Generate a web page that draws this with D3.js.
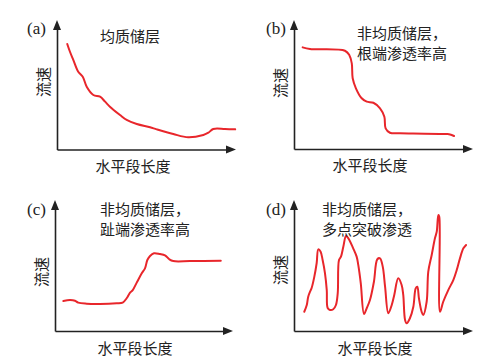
<!DOCTYPE html>
<html><head><meta charset="utf-8">
<script src="https://cdn.jsdelivr.net/npm/d3@7"></script>
<style>
html,body{margin:0;padding:0;background:#fff;}
svg{display:block;}
</style></head>
<body>
<svg id="chart" width="485" height="362"></svg>
<script>
// ---- data (horizontal length 0-100, flow velocity 0-100) ----
const panelLabels = ["(a)", "(b)", "(c)", "(d)"];
const panelTitles = [["均质储层"], ["非均质储层，", "根端渗透率高"], ["非均质储层，", "趾端渗透率高"], ["非均质储层，", "多点突破渗透"]];
const yAxisLabel = "流速";
const xAxisLabel = "水平段长度";

const aX = [5.7, 7.2, 9.1, 11.8, 14.3, 16.5, 20.2, 23.9, 26.7, 29.4, 35.0, 38.7, 44.3, 51.7, 55.4, 64.6, 72.9, 81.3, 84.1, 86.8, 93.3, 99.0];
const aY = [81.2, 75.2, 68.8, 59.8, 56.0, 48.3, 41.9, 40.6, 36.8, 32.9, 26.5, 22.7, 19.6, 17.1, 15.5, 11.9, 9.4, 11.2, 12.9, 15.8, 15.8, 15.5];

const bX = [4.8, 8.9, 28.3, 30.7, 32.1, 32.6, 34.4, 37.6, 40.4, 44.1, 47.8, 50.2, 50.9, 53.3, 58.9, 66.1, 85.0, 86.7, 88.9];
const bY = [78.2, 76.9, 75.6, 72.3, 65.9, 54.4, 46.7, 39.0, 36.4, 35.6, 31.3, 24.8, 15.9, 12.5, 12.1, 11.9, 11.5, 11.2, 10.0];

const cX = [4.6, 8.3, 11.1, 12.9, 17.6, 25.0, 34.3, 37.6, 39.8, 41.7, 43.2, 45.4, 48.2, 50.0, 51.3, 52.8, 55.0, 58.3, 61.1, 63.5, 65.7, 75.0, 92.1];
const cY = [23.1, 23.8, 23.3, 21.8, 21.0, 20.8, 21.3, 21.8, 25.2, 29.5, 31.5, 37.2, 44.4, 48.2, 54.6, 57.7, 59.8, 59.2, 58.2, 55.2, 53.8, 53.8, 54.1];

const dX = [5.7, 7.1, 7.9, 9.3, 9.8, 11.3, 12.6, 13.5, 14.8, 15.9, 17.2, 18.2, 18.7, 20.0, 21.8, 23.3, 24.3, 25.0, 26.1, 27.4, 28.9, 30.2, 32.9, 34.8, 35.7, 37.1, 38.9, 40.4, 42.2, 44.4, 46.3, 47.8, 49.3, 50.6, 52.4, 54.3, 55.7, 57.9, 59.8, 60.7, 61.7, 62.6, 64.4, 66.3, 67.6, 68.5, 69.4, 70.9, 71.8, 73.7, 74.6, 76.5, 78.3, 79.3, 80.2, 80.7, 81.1, 82.9, 85.7, 88.5, 90.4, 92.2, 94.1, 95.6];
const dY = [14.8, 20.0, 26.4, 31.5, 33.1, 41.8, 52.3, 62.8, 61.0, 54.6, 44.6, 31.5, 17.7, 16.2, 16.7, 20.0, 29.2, 54.6, 57.2, 64.8, 73.1, 71.3, 63.6, 57.2, 50.8, 36.7, 13.1, 17.5, 23.8, 37.9, 55.2, 55.9, 49.5, 34.1, 13.6, 20.0, 27.7, 40.5, 35.4, 27.7, 8.5, 5.9, 9.8, 18.7, 32.8, 34.1, 25.2, 14.8, 12.3, 22.5, 45.6, 58.5, 71.3, 76.4, 89.2, 87.9, 14.8, 22.5, 31.5, 39.2, 46.9, 55.9, 63.6, 66.2];

const seriesX = [aX, bX, cX, dX];
const seriesY = [aY, bY, cY, dY];

// ---- layout ----
const layout = [
  {x0: 57, y0: 149.5, right: 236, top: 20, lab: [27, 28], title: [100, 35], ylab: [42, 82], xlab: [133, 165]},
  {x0: 294, y0: 149, right: 473, top: 20, lab: [266, 28], title: [357, 32], ylab: [279, 83], xlab: [370, 164]},
  {x0: 55, y0: 331, right: 233, top: 200, lab: [27, 209], title: [100, 208], ylab: [40, 272], xlab: [135, 347]},
  {x0: 294, y0: 331, right: 473, top: 200, lab: [266, 209], title: [322, 208], ylab: [279, 270], xlab: [375, 347]}
];

const svg = d3.select("#chart");
const axisColor = "#222";
const lineColor = "#e8262b";
const cjk = "'Noto Sans CJK SC', 'Noto Sans', sans-serif";

layout.forEach((L, i) => {
  const g = svg.append("g");
  const x = d3.scaleLinear().domain([0, 100]).range([L.x0, L.x0 + 180]);
  const y = d3.scaleLinear().domain([0, 100]).range([L.y0, L.y0 - 130]);

  // axes via d3 axis generators (no ticks)
  const xAxisScale = d3.scaleLinear().domain([0, 1]).range([L.x0, L.right - 6]);
  const yAxisScale = d3.scaleLinear().domain([0, 1]).range([L.y0, L.top + 6]);
  g.append("g").attr("transform", `translate(0,${L.y0})`)
    .call(d3.axisBottom(xAxisScale).ticks(0).tickSizeOuter(0))
    .call(s => s.select(".domain").attr("stroke", axisColor).attr("stroke-width", 1.6));
  g.append("g").attr("transform", `translate(${L.x0},0)`)
    .call(d3.axisLeft(yAxisScale).ticks(0).tickSizeOuter(0))
    .call(s => s.select(".domain").attr("stroke", axisColor).attr("stroke-width", 1.6));
  // arrowheads
  g.append("path")
    .attr("d", `M${L.right},${L.y0} L${L.right - 10},${L.y0 - 4} L${L.right - 10},${L.y0 + 4} Z`)
    .attr("fill", axisColor);
  g.append("path")
    .attr("d", `M${L.x0},${L.top} L${L.x0 - 4},${L.top + 10} L${L.x0 + 4},${L.top + 10} Z`)
    .attr("fill", axisColor);

  // curve
  const pts = seriesX[i].map((v, k) => [v, seriesY[i][k]]);
  const line = d3.line().x(d => x(d[0])).y(d => y(d[1])).curve(d3.curveCatmullRom.alpha(0.5));
  g.append("path").datum(pts)
    .attr("d", line)
    .attr("fill", "none")
    .attr("stroke", lineColor)
    .attr("stroke-width", 2)
    .attr("stroke-linejoin", "round")
    .attr("stroke-linecap", "round");

  // labels
  g.append("text").attr("x", L.lab[0]).attr("y", L.lab[1])
    .attr("dominant-baseline", "central")
    .attr("font-family", "'Liberation Serif', 'DejaVu Serif', serif")
    .attr("font-size", 17).attr("fill", "#222").text(panelLabels[i]);

  panelTitles[i].forEach((t, k) => {
    g.append("text").attr("x", L.title[0]).attr("y", L.title[1] + k * 20)
      .attr("dominant-baseline", "central")
      .attr("font-family", cjk).attr("font-size", 15).attr("fill", "#222").text(t);
  });

  g.append("text")
    .attr("transform", `translate(${L.ylab[0]},${L.ylab[1]}) rotate(-90)`)
    .attr("text-anchor", "middle").attr("dominant-baseline", "central")
    .attr("font-family", cjk).attr("font-size", 15).attr("fill", "#222").text(yAxisLabel);

  g.append("text").attr("x", L.xlab[0]).attr("y", L.xlab[1])
    .attr("text-anchor", "middle").attr("dominant-baseline", "central")
    .attr("font-family", cjk).attr("font-size", 15).attr("fill", "#222").text(xAxisLabel);
});
</script>
</body></html>
